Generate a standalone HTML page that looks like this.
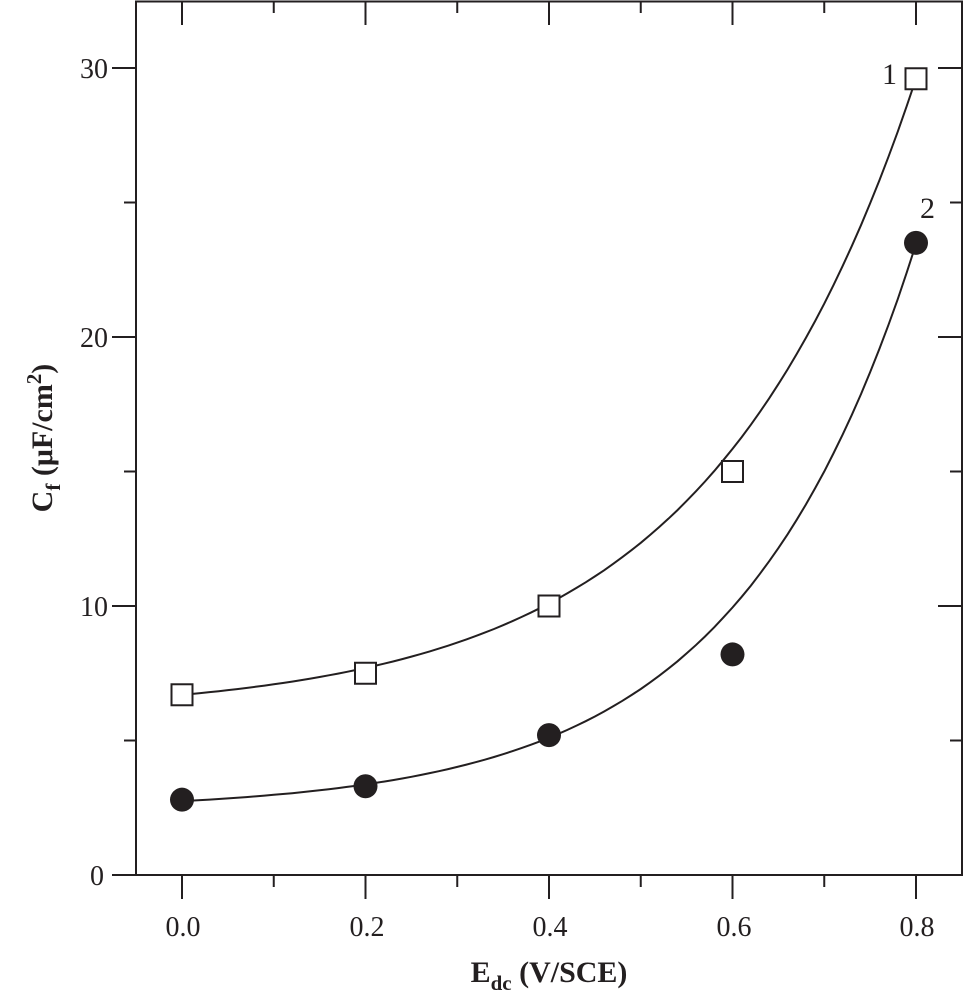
<!DOCTYPE html>
<html><head><meta charset="utf-8"><style>body{margin:0;background:#fff}svg{display:block}</style></head>
<body>
<svg id="s" width="964" height="1000" viewBox="0 0 964 1000" xmlns="http://www.w3.org/2000/svg" font-family="Liberation Serif, serif" fill="#231f20">
<rect x="136" y="1.5" width="826" height="873.5" fill="none" stroke="#231f20" stroke-width="2"/>
<g id="ticks" stroke="#231f20" stroke-width="2"></g>
<g font-size="28" text-anchor="end">
<text x="104" y="885">0</text><text x="108" y="616">10</text><text x="108" y="347">20</text><text x="108" y="78">30</text>
</g>
<g font-size="28" text-anchor="middle">
<text x="183" y="936">0.0</text><text x="367" y="936">0.2</text><text x="550" y="936">0.4</text><text x="734" y="936">0.6</text><text x="917" y="936">0.8</text>
</g>
<text x="549" y="982" font-size="30" font-weight="bold" text-anchor="middle">E<tspan font-size="21" dy="8">dc</tspan><tspan dy="-8"> (V/SCE)</tspan></text>
<text transform="translate(52,438) rotate(-90)" font-size="30" font-weight="bold" text-anchor="middle">C<tspan font-size="21" dy="8">f</tspan><tspan dy="-8"> (μF/cm</tspan><tspan font-size="21" dy="-11">2</tspan><tspan dy="11">)</tspan></text>
<text x="882" y="84" font-size="30">1</text>
<text x="920" y="218" font-size="30">2</text>
<path id="c1" fill="none" stroke="#231f20" stroke-width="2"/>
<path id="c2" fill="none" stroke="#231f20" stroke-width="2"/>
<g id="pts"></g>
</svg>
<script>
var X=function(v){return 182+v*917.5},Y=function(v){return 875-v*26.9};
var t=document.getElementById('ticks'),h='';
for(var i=0;i<=8;i++){var x=182+i*91.75;var L=i%2==0?24:12;h+='<line x1="'+x+'" y1="875" x2="'+x+'" y2="'+(875+L)+'"/><line x1="'+x+'" y1="1" x2="'+x+'" y2="'+(1+L)+'"/>';}
for(var j=0;j<=6;j++){var y=875-j*134.5;var L=j%2==0?24:12;h+='<line x1="136" y1="'+y+'" x2="'+(136-L)+'" y2="'+y+'"/><line x1="962" y1="'+y+'" x2="'+(962-L)+'" y2="'+y+'"/>';}
t.innerHTML=h;
function curve(a,b,k){var d='';for(var v=0;v<=0.8001;v+=0.01){d+=(d?'L':'M')+X(v).toFixed(1)+' '+Y(a+b*Math.exp(k*v)).toFixed(1);}return d;}
document.getElementById('c1').setAttribute('d',curve(5.98,0.717,Math.log(5.74)/0.4));
document.getElementById('c2').setAttribute('d',curve(2.4,0.347,Math.log(7.79)/0.4));
var p='';
[[0,6.7],[0.2,7.5],[0.4,10],[0.6,15],[0.8,29.6]].forEach(function(q){p+='<rect x="'+(X(q[0])-10.5)+'" y="'+(Y(q[1])-10.5)+'" width="21" height="21" fill="#fff" stroke="#231f20" stroke-width="2"/>';});
[[0,2.8],[0.2,3.3],[0.4,5.2],[0.6,8.2],[0.8,23.5]].forEach(function(q){p+='<circle cx="'+X(q[0])+'" cy="'+Y(q[1])+'" r="12" fill="#231f20"/>';});
document.getElementById('pts').innerHTML=p;
</script>
</body></html>
